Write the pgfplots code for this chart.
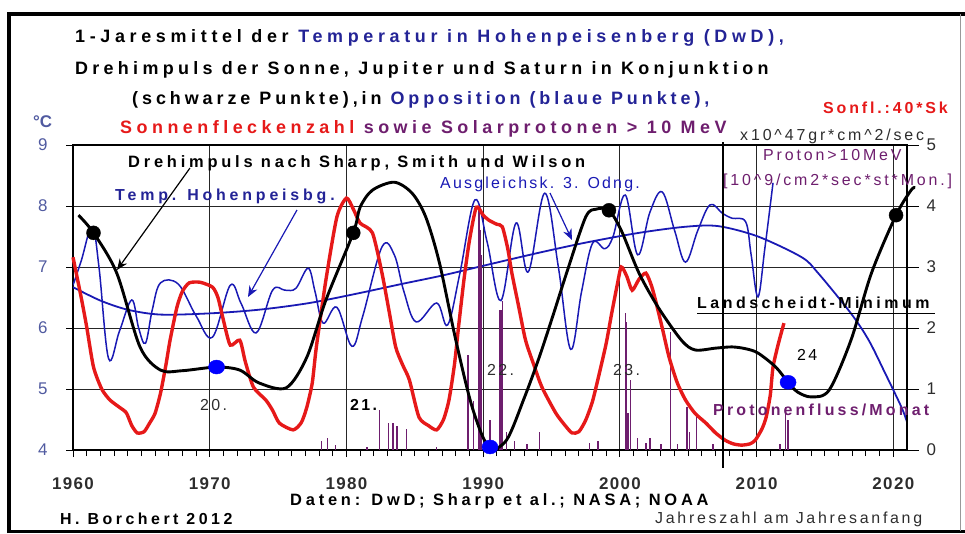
\documentclass[border=0pt]{standalone}
\usepackage{pgfplots}
\pgfplotsset{compat=1.18}
\usepackage{fontspec}
\setmainfont{Liberation Sans}
\usetikzlibrary{arrows.meta}
\definecolor{tblue}{RGB}{35,35,150}
\definecolor{tickblue}{RGB}{80,90,160}
\definecolor{sred}{RGB}{230,25,25}
\definecolor{ppl}{RGB}{110,30,110}
\definecolor{lblue}{RGB}{25,25,180}
\definecolor{dgray}{RGB}{45,45,45}
\newcommand\fs[1]{\fontsize{#1}{#1}\selectfont}
\newcommand\lsp[1]{\addfontfeatures{LetterSpace=#1}}
\begin{document}
\begin{tikzpicture}
\path[use as bounding box] (0,0) rectangle (965bp,-534bp);
% ---------- main axis: temperature (left scale) ----------
\begin{axis}[
  scale only axis, width=834bp, height=305bp,
  at={(73bp,-450bp)}, anchor=south west,
  xmin=1960, xmax=2021, ymin=4, ymax=9,
  xtick={1960,1970,...,2020}, minor x tick num=9,
  ytick={4,5,...,9},
  xtick pos=bottom, ytick pos=left,
  tick align=outside, major tick length=7bp, minor tick length=6bp,
  every tick/.style={black, line width=1bp},
  axis line style={black, line width=2bp},
  xmajorgrids, ymajorgrids,
  grid style={black!85, line width=1bp},
  /pgf/number format/assume math mode=true,
  /pgf/number format/1000 sep={},
  xticklabel style={font={\fs{17}\bfseries\lsp{8}}, text=dgray, yshift=-17bp},
  yticklabel style={font={\fs{17}\lsp{5}}, text=tickblue, xshift=-15bp},
]
% trend curve (3rd order fit)
\addplot[lblue, line width=1.8bp, smooth] coordinates {
(1960,6.67)(1962,6.45)(1964,6.3)(1966.4,6.22)(1970,6.24)(1973.6,6.3)(1977.3,6.41)
(1980.9,6.57)(1984,6.72)(1987,6.86)(1990,7.02)(1994,7.23)(1997.5,7.4)(2001.4,7.56)
(2004.8,7.66)(2007.2,7.67)(2010.1,7.5)(2013.3,7.16)(2014.5,6.9)(2016.9,6.24)(2018.2,5.8)
(2019.4,5.26)(2020.6,4.7)(2021,4.46)};
% annual mean temperature Hohenpeissenberg
\addplot[lblue, line width=1.5bp, smooth, tension=0.6] coordinates {
(1960,6.7)(1960.6,7.1)(1961.4,7.66)(1961.9,7.0)(1962.6,5.5)(1963.4,5.95)(1964.3,6.46)
(1964.8,6.0)(1965.3,5.75)(1965.8,6.3)(1966.4,6.74)(1967.7,6.72)(1969,6.2)(1970.2,5.85)
(1971.5,6.7)(1972.3,6.4)(1973.4,5.92)(1974.6,6.62)(1975.5,6.62)(1976.3,6.65)(1977.2,6.98)
(1977.7,6.6)(1978.3,6.08)(1979.3,6.34)(1980.4,5.7)(1981.2,6.2)(1982.6,7.33)(1983.5,7.2)
(1984.2,6.6)(1985.1,6.1)(1986.6,6.41)(1987.4,6.05)(1988.3,6.9)(1989.4,8.1)(1990.3,7.4)
(1991.3,6.45)(1992.4,7.72)(1993.3,6.92)(1994.5,8.21)(1995.5,7.0)(1996.4,5.65)(1997.2,6.6)
(1998,7.39)(1998.9,7.3)(1999.5,7.5)(2000.4,8.18)(2001.3,7.2)(2002.2,7.9)(2003.1,8.23)
(2004,7.6)(2004.8,7.08)(2005.7,7.6)(2006.6,8.02)(2007.5,7.88)(2008.2,7.8)(2009.2,7.74)
(2009.6,7.2)(2010.1,6.51)(2010.6,7.3)(2011.2,8.38)};
\end{axis}
% ---------- second axis: right scale ----------
\begin{axis}[
  scale only axis, width=834bp, height=305bp,
  at={(73bp,-450bp)}, anchor=south west,
  xmin=1960, xmax=2021, ymin=0, ymax=5,
  axis x line=none, axis y line*=right,
  ytick={0,1,...,5},
  tick align=outside, major tick length=12bp,
  every tick/.style={black, line width=1bp},
  axis line style={black, line width=2bp},
  /pgf/number format/assume math mode=true,
  yticklabel style={font={\fs{17}\lsp{5}}, text=dgray, xshift=4bp},
  clip=false,
]
% solar protons > 10 MeV per month
\addplot[ycomb, ppl, line width=1.3bp] coordinates {
(1978.2,0.15)(1978.6,0.2)(1979.2,0.08)(1981.5,0.05)(1982.4,0.66)(1983.1,0.44)(1983.4,0.45)
(1983.7,0.4)(1984.4,0.35)(1986.6,0.05)(1988.9,1.55)(1989.3,0.8)(1989.7,3.95)(1989.9,3.2)
(1990.5,0.5)(1991.2,2.3)(1991.4,2.45)(1991.7,0.3)(1992.3,0.15)(1993.2,0.1)(1994.1,0.3)
(1997.8,0.12)(1998.4,0.15)(2000.4,2.25)(2000.6,0.6)(2000.8,1.15)(2001.3,0.2)(2001.9,0.12)
(2002.2,0.2)(2003.0,0.1)(2003.7,1.93)(2004.2,0.1)(2004.9,0.7)(2005.1,0.3)(2005.6,0.55)
(2006.8,0.1)(2011.7,0.1)(2012.1,0.7)(2012.3,0.5)};
% larger events drawn wider
\addplot[ycomb, ppl, line width=2.6bp] coordinates {
(1983.4,0.45)(1989.75,3.6)(1991.3,2.3)(2000.45,2.1)};
% sunspot number / 40
\addplot[sred, line width=3.4bp, smooth, tension=0.4] coordinates {
(1960,3.16)(1960.6,2.5)(1961,2.02)(1961.5,1.36)(1962.1,1.0)(1962.7,0.82)(1963.4,0.7)
(1963.9,0.61)(1964.3,0.4)(1964.7,0.28)(1965.2,0.3)(1965.6,0.44)(1966,0.6)(1966.4,0.93)
(1966.8,1.4)(1967.1,1.8)(1967.6,2.34)(1968,2.6)(1968.5,2.74)(1969.3,2.75)(1970.2,2.67)
(1970.6,2.5)(1971,2.13)(1971.5,1.72)(1972.2,1.8)(1972.6,1.45)(1973.2,1.03)(1974.1,0.82)
(1974.6,0.65)(1975.1,0.44)(1976.1,0.33)(1976.7,0.45)(1977.1,0.7)(1977.5,1.1)(1977.8,1.69)
(1978.5,2.79)(1979.3,3.82)(1980,4.13)(1980.5,3.95)(1981,3.72)(1981.9,3.56)(1982.6,2.9)
(1983.1,2.3)(1983.6,1.69)(1984.1,1.4)(1984.6,1.15)(1985.3,0.54)(1986,0.4)(1986.6,0.33)
(1987.1,0.5)(1987.5,0.82)(1987.9,1.4)(1988.2,2.02)(1988.6,2.8)(1989,3.44)(1989.5,3.98)
(1990,3.85)(1990.4,3.77)(1991,3.7)(1991.4,3.66)(1991.8,3.3)(1992.1,2.9)(1992.6,2.35)
(1993.1,1.8)(1993.7,1.4)(1994.3,1.03)(1995.3,0.61)(1996,0.4)(1996.5,0.28)(1997,0.3)
(1997.5,0.49)(1998,0.8)(1998.5,1.26)(1999,1.75)(1999.4,2.24)(1999.8,2.7)(2000.1,3.0)
(2000.5,2.85)(2000.9,2.62)(2001.4,2.8)(2001.9,2.9)(2002.3,2.7)(2002.6,2.46)(2003.1,2.0)
(2003.6,1.52)(2004.2,1.1)(2004.8,0.82)(2005.5,0.6)(2006.3,0.44)(2007,0.28)(2007.7,0.16)
(2008.3,0.1)(2008.9,0.08)(2009.5,0.1)(2009.9,0.16)(2010.4,0.35)(2010.7,0.54)(2011,0.9)
(2011.2,1.36)(2011.6,1.75)(2012,2.08)};
% angular momentum (Sharp, Smith, Wilson)
\addplot[black, line width=2.9bp, smooth] coordinates {
(1960.4,3.85)(1961.5,3.56)(1963.2,2.9)(1964.9,1.69)(1966.4,1.31)(1968,1.3)(1970.5,1.36)
(1972.2,1.31)(1973.6,1.1)(1975.6,1.02)(1977.1,1.52)(1978.5,2.46)(1980.5,3.56)(1981,3.98)
(1981.9,4.26)(1983.5,4.39)(1984.8,4.21)(1985.8,3.82)(1986.8,3.07)(1988,1.8)(1989.2,0.7)
(1990.4,0.05)(1991.7,0.16)(1993,0.85)(1994.1,1.52)(1995.1,2.2)(1996.1,2.9)(1997.5,3.82)
(1998.3,3.95)(1999.2,3.93)(2000.1,3.6)(2001.4,2.9)(2002.8,2.34)(2004.5,1.8)(2005.5,1.64)
(2007,1.67)(2008.2,1.69)(2009.2,1.66)(2010.1,1.59)(2011.4,1.36)(2012.3,1.11)(2013,0.95)
(2014,0.87)(2015.3,0.98)(2016.9,1.8)(2018.4,2.9)(2020.2,3.85)(2021.3,4.26)(2021.6,4.3)};
% conjunction (black) and opposition (blue)
\addplot[only marks, mark=*, mark size=7bp, black] coordinates {
(1961.5,3.56)(1980.5,3.56)(1999.2,3.93)(2020.2,3.85)};
\addplot[only marks, mark=*, mark size=7bp, blue, mark options={xscale=1.15}] coordinates {
(1970.5,1.36)(1990.5,0.05)(2012.3,1.11)};
\end{axis}
% ---------- annotations (pixel coordinates) ----------
\begin{scope}[x=1bp, y=-1bp]
% frame
\draw[line width=4bp] (9,533) -- (9,14) -- (965,14);
\draw[line width=3bp] (9,531.5) -- (965,531.5);
\draw[black!40, line width=1bp] (960,14) -- (960,531);
% thick vertical line
\draw[black, line width=2.4bp] (723,142) -- (723,468);
% title
\begin{scope}[every node/.style={anchor=base west, inner sep=0pt}]
\node[font={\fs{18}\bfseries\lsp{26}}] at (75,42) {1-Jaresmittel der {\color{tblue}Temperatur in Hohenpeisenberg (DwD),}};
\node[font={\fs{18}\bfseries\lsp{24}}] at (75,74) {Drehimpuls der Sonne, Jupiter und Saturn in Konjunktion};
\node[font={\fs{18}\bfseries\lsp{22}}] at (132,104) {(schwarze Punkte),in {\color{tblue}Opposition (blaue Punkte),}};
\node[font={\fs{18}\bfseries\lsp{25}}] at (120,133) {{\color{sred}Sonnenfleckenzahl} {\color{ppl}sowie Solarprotonen > 10 MeV}};
\end{scope}
\begin{scope}[every node/.style={anchor=base west, inner sep=0pt}]
\node[font={\fs{17}\bfseries}, text=tickblue] at (33,127) {°C};
\node[font={\fs{16}\bfseries\lsp{18}}, text=sred] at (823,113) {Sonfl.:40*Sk};
\node[font={\fs{16}\lsp{18}}, text=dgray] at (740,140) {x10\textasciicircum 47gr*cm\textasciicircum 2/sec};
\node[font={\fs{16}\lsp{18}}, text=ppl] at (763,160) {Proton>10MeV};
\node[font={\fs{16}\lsp{18}}, text=ppl] at (723,185) {[10\textasciicircum 9/cm2*sec*st*Mon.]};
\node[font={\fs{16.5}\bfseries\lsp{23}}] at (128,167) {Drehimpuls nach Sharp, Smith und Wilson};
\node[font={\fs{16}\bfseries\lsp{24}}, text=tblue] at (115,200) {Temp. Hohenpeisbg.};
\node[font={\fs{16}\lsp{14}}, text=lblue] at (440,188) {Ausgleichsk. 3. Odng.};
\node[font={\fs{16}\bfseries\lsp{22}}] at (697,308) {Landscheidt-Minimum};
\draw[black, line width=1bp] (697,313) -- (935,313);
\node[font={\fs{16}\lsp{15}}, text=dgray] at (200,410) {20.};
\node[font={\fs{16}\bfseries\lsp{15}}] at (350,410) {21.};
\node[font={\fs{16}\lsp{15}}, text=dgray] at (487,375) {22.};
\node[font={\fs{16}\lsp{15}}, text=dgray] at (613,375) {23.};
\node[font={\fs{16}\lsp{15}}] at (797,360) {24};
\node[font={\fs{16}\bfseries\lsp{20}}, text=ppl] at (713,415) {Protonenfluss/Monat};
\node[font={\fs{16.5}\bfseries\lsp{23}}] at (290,505) {Daten: DwD; Sharp et al.; NASA; NOAA};
\node[font={\fs{16}\bfseries\lsp{22}}] at (60,524) {H. Borchert 2012};
\node[font={\fs{16}\lsp{17}}, text=dgray] at (655,523) {Jahreszahl am Jahresanfang};
\end{scope}
% arrows
\draw[black, line width=1.2bp, -{Stealth[length=11bp,width=9bp]}] (190,168) -- (117,270);
\draw[lblue, line width=1.2bp, -{Stealth[length=11bp,width=9bp]}] (297,210) -- (248,297);
\draw[lblue, line width=1.2bp, -{Stealth[length=11bp,width=9bp]}] (550,193) -- (572,240);
\end{scope}
\end{tikzpicture}
\end{document}
